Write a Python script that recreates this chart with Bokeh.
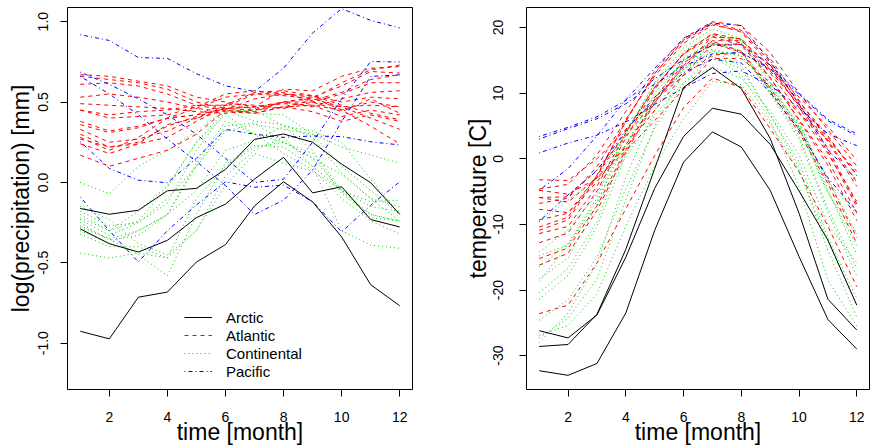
from bokeh.plotting import figure
from bokeh.layouts import row
from bokeh.models import Range1d, FixedTicker, Legend, LegendItem
from bokeh.embed import file_html
from bokeh.resources import INLINE

months = [1, 2, 3, 4, 5, 6, 7, 8, 9, 10, 11, 12]

# ---------- log10 precipitation [mm] ----------
precip_atlantic = [
    [0.67, 0.66, 0.63, 0.60, 0.53, 0.50, 0.47, 0.58, 0.57, 0.66, 0.71, 0.72],
    [0.66, 0.64, 0.62, 0.58, 0.50, 0.46, 0.47, 0.50, 0.52, 0.62, 0.70, 0.73],
    [0.61, 0.62, 0.60, 0.55, 0.48, 0.45, 0.44, 0.50, 0.53, 0.60, 0.69, 0.68],
    [0.53, 0.55, 0.53, 0.50, 0.46, 0.44, 0.43, 0.47, 0.51, 0.56, 0.64, 0.67],
    [0.49, 0.48, 0.47, 0.46, 0.44, 0.43, 0.45, 0.50, 0.50, 0.55, 0.62, 0.62],
    [0.45, 0.42, 0.44, 0.45, 0.48, 0.48, 0.46, 0.50, 0.47, 0.52, 0.56, 0.57],
    [0.17, 0.10, 0.15, 0.20, 0.30, 0.45, 0.52, 0.55, 0.53, 0.45, 0.35, 0.24],
    [0.30, 0.22, 0.24, 0.28, 0.38, 0.47, 0.55, 0.54, 0.52, 0.47, 0.40, 0.33],
    [0.33, 0.25, 0.27, 0.32, 0.40, 0.48, 0.56, 0.57, 0.54, 0.48, 0.43, 0.39],
    [0.45, 0.40, 0.41, 0.42, 0.47, 0.55, 0.57, 0.55, 0.54, 0.50, 0.53, 0.52],
    [0.38, 0.32, 0.35, 0.40, 0.46, 0.53, 0.55, 0.56, 0.50, 0.47, 0.48, 0.47],
    [0.36, 0.31, 0.34, 0.40, 0.42, 0.46, 0.47, 0.49, 0.48, 0.45, 0.50, 0.47],
    [0.27, 0.22, 0.25, 0.35, 0.41, 0.46, 0.45, 0.47, 0.48, 0.41, 0.45, 0.42],
    [0.24, 0.18, 0.24, 0.36, 0.40, 0.45, 0.43, 0.47, 0.44, 0.38, 0.42, 0.38],
    [0.28, 0.20, 0.28, 0.40, 0.42, 0.49, 0.48, 0.46, 0.50, 0.44, 0.52, 0.43],
]
precip_continental = [
    [0.00, -0.07, 0.10, 0.20, 0.32, 0.45, 0.43, 0.42, 0.30, 0.22, 0.17, 0.12],
    [-0.20, -0.30, -0.18, -0.02, 0.25, 0.45, 0.38, 0.36, 0.28, 0.06, -0.10, -0.15],
    [-0.23, -0.33, -0.25, -0.10, 0.10, 0.32, 0.36, 0.33, 0.30, 0.10, -0.05, -0.20],
    [-0.30, -0.38, -0.30, -0.20, -0.05, 0.20, 0.26, 0.35, 0.32, 0.25, 0.02, -0.20],
    [-0.27, -0.35, -0.30, -0.20, 0.12, 0.38, 0.30, 0.18, 0.08, -0.10, -0.24, -0.32],
    [-0.25, -0.36, -0.33, -0.20, 0.10, 0.35, 0.37, 0.25, 0.15, -0.05, -0.20, -0.24],
    [-0.32, -0.40, -0.40, -0.47, -0.10, 0.10, 0.22, 0.25, 0.15, 0.05, -0.10, -0.24],
    [-0.18, -0.27, -0.25, -0.13, 0.20, 0.44, 0.45, 0.35, 0.20, -0.05, -0.15, -0.18],
    [-0.22, -0.30, -0.24, -0.03, 0.25, 0.42, 0.30, 0.25, 0.18, -0.07, -0.20, -0.24],
    [-0.15, -0.23, -0.38, -0.45, -0.30, -0.02, 0.18, 0.12, 0.07, -0.05, -0.12, -0.11],
    [-0.28, -0.35, -0.45, -0.58, -0.20, 0.12, 0.23, 0.22, 0.10, -0.05, -0.22, -0.24],
    [-0.44, -0.47, -0.44, -0.47, -0.30, 0.04, 0.20, 0.28, 0.10, -0.30, -0.39, -0.41],
]
precip_pacific = [
    [-0.09, -0.30, -0.495, -0.30, -0.14, 0.004, -0.03, -0.017, -0.12, -0.308, -0.142, 0.004],
    [0.686, 0.61, 0.52, 0.42, 0.30, 0.15, 0.00, 0.02, 0.25, 0.52, 0.752, 0.749],
    [0.66, 0.55, 0.42, 0.27, 0.13, -0.02, -0.20, -0.11, 0.077, 0.378, 0.659, 0.669],
    [0.253, 0.087, 0.014, -0.002, 0.15, 0.33, 0.30, 0.28, 0.289, 0.285, 0.253, 0.233],
    [0.919, 0.883, 0.777, 0.771, 0.676, 0.601, 0.565, 0.711, 0.929, 1.081, 1.008, 0.961],
]
precip_arctic = [
    [-0.162, -0.198, -0.173, -0.052, -0.037, 0.081, 0.268, 0.301, 0.25, 0.114, -0.002, -0.198],
    [-0.289, -0.381, -0.433, -0.36, -0.219, -0.135, 0.021, 0.156, -0.065, -0.027, -0.231, -0.277],
    [-0.926, -0.973, -0.714, -0.682, -0.495, -0.387, -0.146, 0.004, -0.121, -0.339, -0.636, -0.767],
]

# ---------- temperature [C] ----------
temp_atlantic = [
    [-4.8, -5.4, -3.0, 1.2, 5.8, 10.6, 15.3, 15.3, 11.6, 6.9, 2.9, -1.9],
    [-5.9, -5.8, -1.7, 3.5, 8.8, 14.0, 18.0, 18.0, 14.2, 8.7, 3.5, -2.6],
    [-5.9, -6.6, -2.9, 1.8, 7.4, 12.8, 17.4, 17.5, 13.4, 8.2, 3.3, -2.4],
    [-3.2, -3.3, 0.0, 4.5, 8.9, 12.7, 15.8, 16.2, 13.6, 9.4, 4.9, -0.2],
    [-7.7, -8.2, -3.5, 2.1, 8.5, 14.2, 18.6, 18.3, 13.8, 8.1, 2.6, -4.2],
    [-9.3, -8.3, -2.6, 4.2, 10.9, 16.0, 19.1, 18.2, 13.1, 7.1, 0.8, -6.5],
    [-23.6, -22.3, -15.9, -7.6, 0.5, 7.8, 12.3, 10.9, 4.6, -2.0, -10.3, -19.5],
    [-15.2, -13.6, -7.2, 1.4, 9.1, 15.0, 17.9, 16.4, 10.8, 4.5, -3.2, -12.0],
    [-16.2, -14.4, -7.9, 1.0, 8.5, 14.6, 17.6, 16.2, 10.4, 4.0, -3.8, -12.9],
    [-12.8, -11.3, -4.9, 3.2, 10.6, 16.1, 19.0, 17.6, 12.4, 5.9, -1.0, -9.4],
    [-11.4, -10.3, -4.2, 3.9, 10.9, 16.0, 18.6, 17.3, 12.3, 6.0, -0.3, -8.2],
    [-10.4, -8.9, -2.5, 5.7, 13.0, 18.1, 20.8, 19.6, 14.7, 8.3, 1.6, -6.9],
    [-10.9, -9.3, -2.8, 5.8, 13.0, 18.0, 20.6, 19.3, 14.3, 7.8, 1.1, -7.3],
    [-4.6, -3.9, 0.6, 7.2, 13.4, 18.4, 20.9, 20.3, 16.2, 10.0, 4.4, -1.1],
    [-6.8, -6.0, -1.2, 6.0, 12.6, 17.6, 20.4, 19.5, 15.3, 8.9, 2.8, -3.6],
]
temp_continental = [
    [-14.8, -13.1, -6.5, 2.3, 8.8, 13.6, 17.6, 16.4, 11.1, 5.0, -3.1, -11.4],
    [-18.3, -15.1, -7.0, 3.8, 11.6, 16.9, 19.8, 18.3, 12.4, 5.7, -4.7, -14.6],
    [-21.4, -17.8, -10.3, 0.6, 9.0, 15.3, 17.9, 16.4, 9.9, 3.0, -8.2, -17.9],
    [-26.9, -25.4, -20.6, -10.3, -1.1, 6.1, 11.8, 11.3, 5.4, -1.9, -12.5, -22.4],
    [-16.5, -12.9, -6.0, 4.1, 11.4, 16.4, 18.9, 18.0, 11.6, 4.8, -5.0, -13.3],
    [-20.4, -16.7, -9.6, 2.2, 10.0, 15.0, 17.5, 16.4, 10.2, 3.5, -7.6, -16.8],
    [-24.6, -21.5, -15.0, -4.6, 4.6, 11.5, 15.6, 13.7, 6.7, -0.5, -12.0, -21.3],
    [-14.2, -10.8, -5.4, 4.1, 10.7, 14.7, 16.7, 15.7, 10.5, 4.8, -5.3, -11.5],
    [-9.6, -6.3, -3.0, 3.8, 9.4, 13.7, 16.4, 15.7, 10.8, 5.4, -3.6, -8.4],
    [-18.7, -13.1, -7.2, 0.3, 6.6, 11.6, 14.0, 12.3, 7.3, 0.6, -10.0, -15.9],
    [-28.0, -23.5, -16.0, -2.8, 7.4, 13.7, 15.6, 12.8, 5.9, -4.3, -18.5, -25.5],
    [-27.3, -24.3, -18.3, -6.2, 5.0, 13.1, 16.5, 14.1, 6.7, -1.4, -14.0, -24.1],
]
temp_pacific = [
    [-4.8, -1.5, 3.5, 9.0, 13.8, 18.3, 20.7, 20.3, 14.9, 8.4, 1.4, -3.2],
    [3.4, 4.8, 6.4, 8.9, 12.2, 15.1, 17.3, 17.4, 14.3, 10.0, 6.0, 3.8],
    [3.0, 4.6, 6.1, 8.4, 11.4, 14.1, 16.0, 16.2, 13.8, 9.8, 5.8, 3.5],
    [-9.5, -5.5, -1.8, 4.3, 9.4, 13.1, 15.2, 14.6, 10.1, 4.4, -2.9, -8.1],
    [0.9, 2.4, 3.6, 5.6, 8.3, 10.8, 13.0, 13.4, 11.2, 7.7, 3.8, 2.0],
]
temp_arctic = [
    [-26.2, -27.3, -23.8, -15.0, -4.5, 3.4, 7.7, 6.8, 2.2, -4.9, -12.4, -22.3],
    [-28.6, -28.3, -23.7, -13.8, -1.5, 10.9, 13.9, 10.7, 3.1, -8.3, -21.4, -26.1],
    [-32.3, -33.0, -31.2, -23.5, -10.9, -0.5, 4.1, 1.8, -4.8, -14.9, -24.5, -29.0],
]

regions = ["Atlantic", "Continental", "Pacific", "Arctic"]
legend_labels = ["Arctic", "Atlantic", "Continental", "Pacific"]
precip = {"Atlantic": precip_atlantic, "Continental": precip_continental,
          "Pacific": precip_pacific, "Arctic": precip_arctic}
temp = {"Atlantic": temp_atlantic, "Continental": temp_continental,
        "Pacific": temp_pacific, "Arctic": temp_arctic}

x_ticks = [2, 4, 6, 8, 10, 12]
precip_ticks = [-1.0, -0.5, 0.0, 0.5, 1.0]
precip_tick_labels = ["-1.0", "-0.5", "0.0", "0.5", "1.0"]
temp_ticks = [-30, -20, -10, 0, 10, 20]
temp_tick_labels = ["-30", "-20", "-10", "0", "10", "20"]

colors = {"Arctic": "#000000", "Atlantic": "#FF0000", "Continental": "#00CD00", "Pacific": "#0000FF"}
dashes = {"Arctic": "solid", "Atlantic": "4 4", "Continental": "1 3", "Pacific": "1 3 4 3"}

FONT = "Liberation Sans"
H = 447


def make_fig(width, left, right, yrange, yticks, ylabels, ylab, lab_standoff, title_standoff):
    p = figure(width=width, height=H, x_range=Range1d(0.56, 12.44),
               y_range=Range1d(*yrange), output_backend="svg", toolbar_location=None,
               min_border_left=left, min_border_right=right, min_border_top=7,
               min_border_bottom=58)
    p.xgrid.visible = False
    p.ygrid.visible = False
    p.outline_line_color = "black"
    p.outline_line_alpha = 1.0
    p.outline_line_width = 1
    p.background_fill_color = "white"
    p.border_fill_color = "white"
    for ax in p.axis:
        ax.axis_line_color = None
        ax.major_tick_line_color = "black"
        ax.major_tick_out = 7
        ax.major_tick_in = 0
        ax.minor_tick_line_color = None
        ax.major_label_text_font = FONT
        ax.major_label_text_font_size = "14px"
        ax.major_label_text_color = "black"
        ax.axis_label_text_font = FONT
        ax.axis_label_text_font_size = "23px"
        ax.axis_label_text_font_style = "normal"
        ax.axis_label_text_color = "black"
    p.xaxis.ticker = FixedTicker(ticks=x_ticks)
    p.xaxis.axis_label = "time [month]"
    p.xaxis.major_label_standoff = 15
    p.xaxis.axis_label_standoff = -6
    p.yaxis.ticker = FixedTicker(ticks=yticks)
    p.yaxis.major_label_overrides = {t: l for t, l in zip(yticks, ylabels)}
    p.yaxis.major_label_orientation = "vertical"
    p.yaxis.major_label_standoff = lab_standoff
    p.yaxis.axis_label = ylab
    p.yaxis.axis_label_standoff = title_standoff
    return p


p1 = make_fig(430, 67, 18, (-1.288, 1.088), precip_ticks, precip_tick_labels,
              "log(precipitation) [mm]", 12, 2)
p2 = make_fig(440, 96, 1, (-35.16, 23.06), temp_ticks, temp_tick_labels,
              "temperature [C]", 16, 0)

first = {}
for reg in regions:
    for series in precip[reg]:
        r = p1.line(months, series, line_color=colors[reg], line_width=1,
                    line_dash=dashes[reg])
        first.setdefault(reg, r)
    for series in temp[reg]:
        p2.line(months, series, line_color=colors[reg], line_width=1,
                line_dash=dashes[reg])

legend = Legend(items=[LegendItem(label=lab, renderers=[first[lab]]) for lab in legend_labels],
                location=(117, 9), padding=0, margin=0, spacing=0,
                glyph_width=28, glyph_height=18, label_height=18, label_standoff=14,
                label_text_font=FONT, label_text_font_size="15px",
                label_text_color="black",
                background_fill_alpha=0, border_line_alpha=0)
p1.add_layout(legend)

layout = row(p1, p2)
open("out.html", "w").write(file_html(layout, INLINE))
